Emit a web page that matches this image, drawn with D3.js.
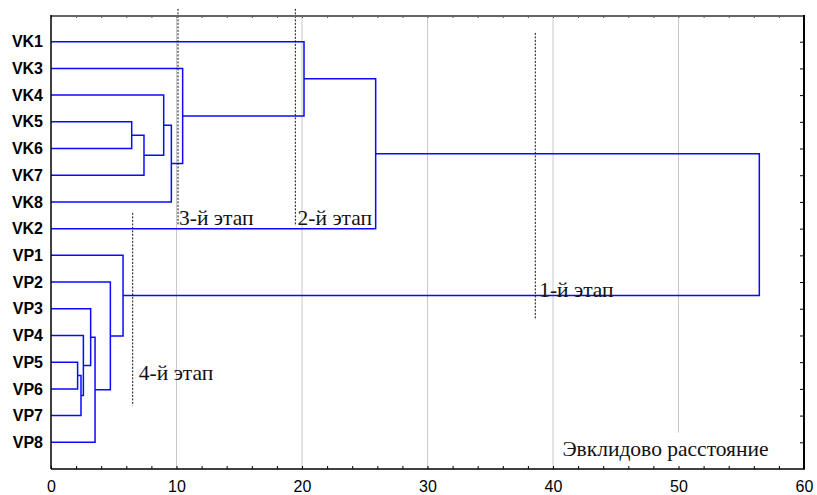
<!DOCTYPE html>
<html>
<head>
<meta charset="utf-8">
<script src="https://cdn.jsdelivr.net/npm/d3@7"></script>
<style>
  body { margin: 0; background: #fff; }
  svg { display: block; }
</style>
</head>
<body>
<div id="chart-container"></div>
<script>
// --- Data ---
const leafLabels = ["VK1", "VK3", "VK4", "VK5", "VK6", "VK7", "VK8", "VK2",
                    "VP1", "VP2", "VP3", "VP4", "VP5", "VP6", "VP7", "VP8"];

// linkage table: merge n creates cluster id 16 + n
const mergeLeft  = [12, 16, 11, 10, 19, 9, 8, 3, 23, 2, 25, 1, 0, 28, 29];
const mergeRight = [13, 14, 17, 18, 15, 20, 21, 4, 5, 24, 6, 26, 27, 7, 22];
const mergeDist  = [2.12, 2.39, 2.58, 3.16, 3.51, 4.73, 5.74, 6.43, 7.41, 8.98, 9.59, 10.49, 20.16, 25.87, 56.44];

// stage cut lines (distance) and their extent in row units
const stageNames     = ["1-й этап", "2-й этап", "3-й этап", "4-й этап"];
const stageDist      = [38.59, 19.47, 10.12, 6.51];
const stageRowFrom   = [-0.33, -1.23, -1.23, 6.41];
const stageRowTo     = [10.42, 6.9, 6.87, 13.63];
const stageLabelDist = [38.9, 19.65, 10.2, 7.0];
const stageLabelRow  = [9.55, 6.85, 6.85, 12.68];

const xLabelTicks = [0, 10, 20, 30, 40, 50, 60];
const xMinorTicks = d3.range(0, 61, 2);
const xTitle = "Эвклидово расстояние";
const xTitleDist = 40.75;
const xTitleRow = 15.5;

// --- Chart Dimensions ---
const width = 817;
const height = 495;
const margin = { top: 15, right: 13, bottom: 26, left: 51 };

const svg = d3
  .select("#chart-container")
  .append("svg")
  .attr("width", width)
  .attr("height", height);

const x = d3.scaleLinear().domain([0, 60]).range([margin.left, width - margin.right]);
const y = d3.scalePoint().domain(leafLabels).range([margin.top, height - margin.bottom]).padding(1);
const rowY = d3
  .scaleLinear()
  .domain([0, leafLabels.length - 1])
  .range([y(leafLabels[0]), y(leafLabels[leafLabels.length - 1])]);

const serif = "'Liberation Serif', 'Times New Roman', serif";
const sans = "'Liberation Sans', Arial, sans-serif";

// --- Grid ---
svg
  .append("g")
  .selectAll("line")
  .data(xLabelTicks.filter((d) => d > 0 && d < 60))
  .join("line")
  .attr("x1", (d) => x(d))
  .attr("x2", (d) => x(d))
  .attr("y1", margin.top)
  .attr("y2", height - margin.bottom)
  .attr("stroke", "#c8c8c8")
  .attr("stroke-width", 1);

// --- Axis title with white box (hides the grid behind it) ---
const titleG = svg.append("g");
const titleBox = titleG.append("rect").attr("fill", "#fff");
const titleText = titleG
  .append("text")
  .attr("x", x(xTitleDist))
  .attr("y", rowY(xTitleRow))
  .style("font-family", serif)
  .style("font-size", "21.5px")
  .attr("fill", "#111")
  .text(xTitle);
const bb = titleText.node().getBBox();
titleBox
  .attr("x", bb.x - 4)
  .attr("y", bb.y - 4)
  .attr("width", bb.width + 8)
  .attr("height", height - margin.bottom - bb.y + 4);

// --- Dendrogram ---
const nodeX = leafLabels.map(() => 0);
const nodeY = leafLabels.map((d) => y(d));
const links = mergeDist.map((dist, i) => {
  const a = mergeLeft[i];
  const b = mergeRight[i];
  nodeX.push(dist);
  nodeY.push((nodeY[a] + nodeY[b]) / 2);
  return { a, b, dist };
});

svg
  .append("g")
  .selectAll("path")
  .data(links)
  .join("path")
  .attr("fill", "none")
  .attr("stroke", "#0a0aff")
  .attr("stroke-width", 1.5)
  .attr(
    "d",
    (d) =>
      `M${x(nodeX[d.a])},${nodeY[d.a]}H${x(d.dist)}V${nodeY[d.b]}H${x(nodeX[d.b])}`
  );

// --- Stage markers ---
svg
  .append("g")
  .selectAll("line")
  .data(stageDist)
  .join("line")
  .attr("x1", (d) => x(d))
  .attr("x2", (d) => x(d))
  .attr("y1", (d, i) => rowY(stageRowFrom[i]))
  .attr("y2", (d, i) => rowY(stageRowTo[i]))
  .attr("stroke", "#111")
  .attr("stroke-width", 1)
  .attr("stroke-dasharray", "2,1.5");

svg
  .append("g")
  .selectAll("text")
  .data(stageNames)
  .join("text")
  .attr("x", (d, i) => x(stageLabelDist[i]))
  .attr("y", (d, i) => rowY(stageLabelRow[i]))
  .style("font-family", serif)
  .style("font-size", "21.5px")
  .attr("fill", "#111")
  .text((d) => d);

// --- Axes ---
const bottomAxis = svg
  .append("g")
  .attr("transform", `translate(0,${height - margin.bottom})`)
  .call(
    d3
      .axisBottom(x)
      .tickValues(xMinorTicks)
      .tickSizeInner(-3)
      .tickSizeOuter(0)
      .tickPadding(12)
      .tickFormat((d) => (d % 10 === 0 ? d : ""))
  );
bottomAxis.select(".domain").remove();
bottomAxis.selectAll("text").style("font-family", sans).style("font-size", "16px").attr("fill", "#000");

const topAxis = svg
  .append("g")
  .attr("transform", `translate(0,${margin.top})`)
  .call(d3.axisTop(x).tickValues(xMinorTicks).tickSizeInner(-3).tickSizeOuter(0).tickFormat(""));
topAxis.select(".domain").remove();
topAxis.selectAll("line").attr("stroke", "#555");

const leftAxis = svg
  .append("g")
  .attr("transform", `translate(${margin.left},0)`)
  .call(d3.axisLeft(y).tickSize(0).tickPadding(8));
leftAxis.select(".domain").remove();
leftAxis
  .selectAll("text")
  .style("font-family", sans)
  .style("font-size", "16px")
  .style("font-weight", "bold")
  .attr("fill", "#000");

const rightAxis = svg
  .append("g")
  .attr("transform", `translate(${width - margin.right},0)`)
  .call(d3.axisRight(y).tickSizeInner(-4).tickSizeOuter(0).tickFormat(""));
rightAxis.select(".domain").remove();

// --- Frame ---
const x0 = margin.left;
const x1 = width - margin.right;
const y0 = margin.top;
const y1 = height - margin.bottom;
const frame = svg.append("g").attr("fill", "none");
frame.append("line").attr("x1", x0).attr("x2", x1).attr("y1", y0 + 1).attr("y2", y0 + 1).attr("stroke", "#666").attr("stroke-width", 2);
frame.append("line").attr("x1", x0).attr("x2", x1 + 1).attr("y1", y1).attr("y2", y1).attr("stroke", "#000").attr("stroke-width", 1.5);
frame.append("line").attr("x1", x0).attr("x2", x0).attr("y1", y0).attr("y2", y1).attr("stroke", "#000").attr("stroke-width", 1.5);
frame.append("line").attr("x1", x1).attr("x2", x1).attr("y1", y0).attr("y2", y1).attr("stroke", "#000").attr("stroke-width", 2);
</script>
</body>
</html>
